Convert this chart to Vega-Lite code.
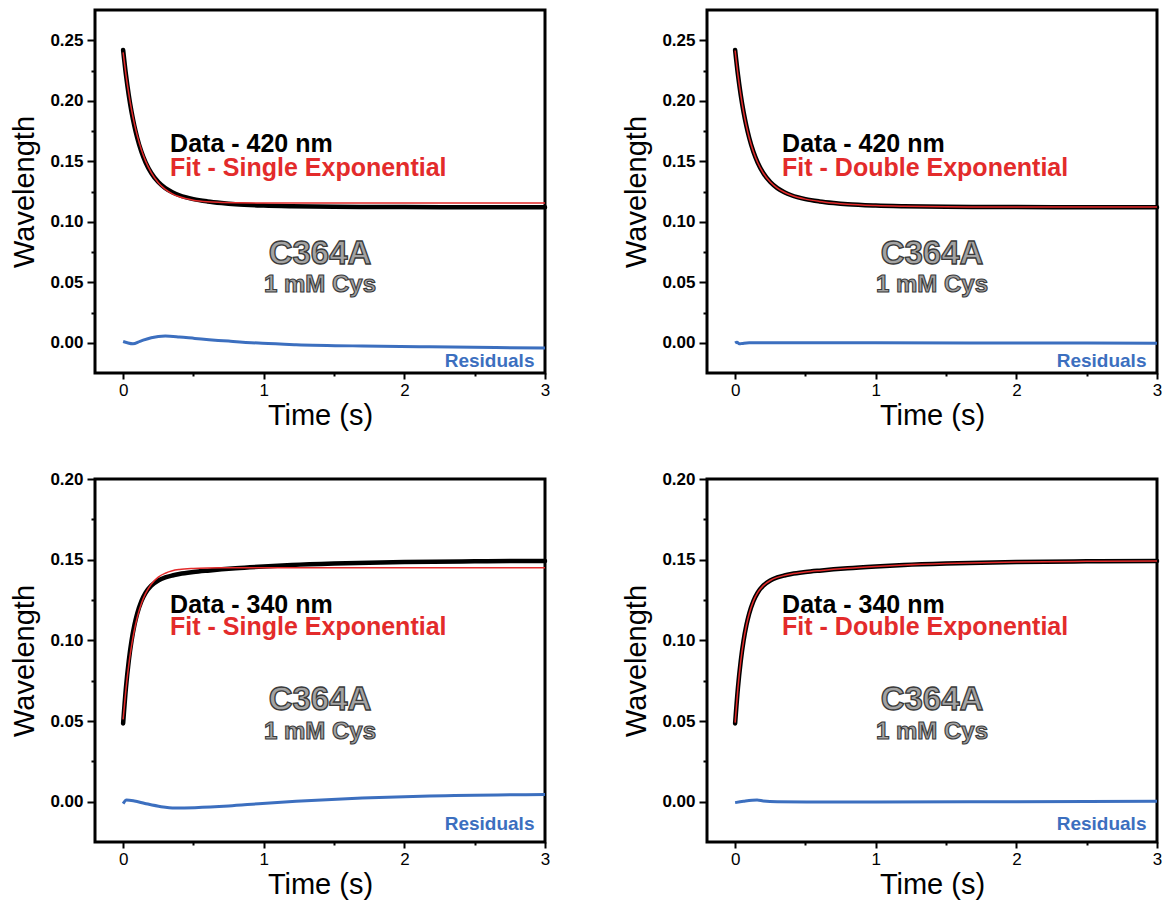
{
  "$schema": "https://vega.github.io/schema/vega-lite/v6.json",
  "background": "white",
  "padding": {"left": 9, "top": 8, "right": 2, "bottom": 5},
  "bounds": "flush",
  "columns": 2,
  "spacing": {"row": 106, "column": 162},
  "datasets": {
    "curves": [
      {"p": "A", "t": 0, "data": 0.242, "fit": 0.24},
      {"p": "A", "t": 0.02, "data": 0.2216, "fit": 0.2216},
      {"p": "A", "t": 0.04, "data": 0.2047, "fit": 0.2059},
      {"p": "A", "t": 0.06, "data": 0.1907, "fit": 0.1925},
      {"p": "A", "t": 0.08, "data": 0.1791, "fit": 0.1811},
      {"p": "A", "t": 0.1, "data": 0.1694, "fit": 0.1714},
      {"p": "A", "t": 0.13, "data": 0.1578, "fit": 0.1595},
      {"p": "A", "t": 0.16, "data": 0.149, "fit": 0.1501},
      {"p": "A", "t": 0.2, "data": 0.1403, "fit": 0.1406},
      {"p": "A", "t": 0.25, "data": 0.1328, "fit": 0.1323},
      {"p": "A", "t": 0.3, "data": 0.1278, "fit": 0.1268},
      {"p": "A", "t": 0.35, "data": 0.1244, "fit": 0.1231},
      {"p": "A", "t": 0.4, "data": 0.1219, "fit": 0.1206},
      {"p": "A", "t": 0.5, "data": 0.1187, "fit": 0.1178},
      {"p": "A", "t": 0.6, "data": 0.1168, "fit": 0.1165},
      {"p": "A", "t": 0.7, "data": 0.1155, "fit": 0.116},
      {"p": "A", "t": 0.8, "data": 0.1145, "fit": 0.1157},
      {"p": "A", "t": 1.0, "data": 0.1134, "fit": 0.1155},
      {"p": "A", "t": 1.2, "data": 0.1128, "fit": 0.1155},
      {"p": "A", "t": 1.5, "data": 0.1123, "fit": 0.1155},
      {"p": "A", "t": 2.0, "data": 0.1121, "fit": 0.1155},
      {"p": "A", "t": 2.5, "data": 0.112, "fit": 0.1155},
      {"p": "A", "t": 3.0, "data": 0.112, "fit": 0.1155},

      {"p": "B", "t": 0, "data": 0.242, "fit": 0.2415},
      {"p": "B", "t": 0.02, "data": 0.2216, "fit": 0.2214},
      {"p": "B", "t": 0.04, "data": 0.2047, "fit": 0.2049},
      {"p": "B", "t": 0.06, "data": 0.1907, "fit": 0.1909},
      {"p": "B", "t": 0.08, "data": 0.1791, "fit": 0.1792},
      {"p": "B", "t": 0.1, "data": 0.1694, "fit": 0.1694},
      {"p": "B", "t": 0.13, "data": 0.1578, "fit": 0.1578},
      {"p": "B", "t": 0.16, "data": 0.149, "fit": 0.149},
      {"p": "B", "t": 0.2, "data": 0.1403, "fit": 0.1403},
      {"p": "B", "t": 0.25, "data": 0.1328, "fit": 0.1328},
      {"p": "B", "t": 0.3, "data": 0.1278, "fit": 0.1278},
      {"p": "B", "t": 0.35, "data": 0.1244, "fit": 0.1244},
      {"p": "B", "t": 0.4, "data": 0.1219, "fit": 0.1219},
      {"p": "B", "t": 0.5, "data": 0.1187, "fit": 0.1187},
      {"p": "B", "t": 0.6, "data": 0.1168, "fit": 0.1168},
      {"p": "B", "t": 0.7, "data": 0.1155, "fit": 0.1155},
      {"p": "B", "t": 0.8, "data": 0.1145, "fit": 0.1145},
      {"p": "B", "t": 1.0, "data": 0.1134, "fit": 0.1134},
      {"p": "B", "t": 1.2, "data": 0.1128, "fit": 0.1128},
      {"p": "B", "t": 1.5, "data": 0.1123, "fit": 0.1123},
      {"p": "B", "t": 2.0, "data": 0.1121, "fit": 0.1121},
      {"p": "B", "t": 2.5, "data": 0.112, "fit": 0.1121},
      {"p": "B", "t": 3.0, "data": 0.112, "fit": 0.1121},

      {"p": "C", "t": 0, "data": 0.0485, "fit": 0.051},
      {"p": "C", "t": 0.02, "data": 0.0706, "fit": 0.0697},
      {"p": "C", "t": 0.04, "data": 0.0872, "fit": 0.0847},
      {"p": "C", "t": 0.06, "data": 0.0998, "fit": 0.0967},
      {"p": "C", "t": 0.08, "data": 0.1093, "fit": 0.1064},
      {"p": "C", "t": 0.1, "data": 0.1165, "fit": 0.1141},
      {"p": "C", "t": 0.13, "data": 0.1243, "fit": 0.1228},
      {"p": "C", "t": 0.16, "data": 0.1295, "fit": 0.1291},
      {"p": "C", "t": 0.2, "data": 0.1339, "fit": 0.1348},
      {"p": "C", "t": 0.25, "data": 0.1371, "fit": 0.1392},
      {"p": "C", "t": 0.3, "data": 0.139, "fit": 0.1416},
      {"p": "C", "t": 0.35, "data": 0.1402, "fit": 0.1431},
      {"p": "C", "t": 0.4, "data": 0.1411, "fit": 0.1439},
      {"p": "C", "t": 0.5, "data": 0.1423, "fit": 0.1446},
      {"p": "C", "t": 0.6, "data": 0.1432, "fit": 0.1449},
      {"p": "C", "t": 0.7, "data": 0.144, "fit": 0.145},
      {"p": "C", "t": 0.8, "data": 0.1447, "fit": 0.145},
      {"p": "C", "t": 1.0, "data": 0.1458, "fit": 0.145},
      {"p": "C", "t": 1.2, "data": 0.1467, "fit": 0.145},
      {"p": "C", "t": 1.5, "data": 0.1476, "fit": 0.145},
      {"p": "C", "t": 2.0, "data": 0.1485, "fit": 0.145},
      {"p": "C", "t": 2.5, "data": 0.149, "fit": 0.145},
      {"p": "C", "t": 3.0, "data": 0.1492, "fit": 0.145},

      {"p": "D", "t": 0, "data": 0.0485, "fit": 0.049},
      {"p": "D", "t": 0.02, "data": 0.0706, "fit": 0.0705},
      {"p": "D", "t": 0.04, "data": 0.0872, "fit": 0.0871},
      {"p": "D", "t": 0.06, "data": 0.0998, "fit": 0.0997},
      {"p": "D", "t": 0.08, "data": 0.1093, "fit": 0.1092},
      {"p": "D", "t": 0.1, "data": 0.1165, "fit": 0.1165},
      {"p": "D", "t": 0.13, "data": 0.1243, "fit": 0.1243},
      {"p": "D", "t": 0.16, "data": 0.1295, "fit": 0.1295},
      {"p": "D", "t": 0.2, "data": 0.1339, "fit": 0.1339},
      {"p": "D", "t": 0.25, "data": 0.1371, "fit": 0.1371},
      {"p": "D", "t": 0.3, "data": 0.139, "fit": 0.139},
      {"p": "D", "t": 0.35, "data": 0.1402, "fit": 0.1402},
      {"p": "D", "t": 0.4, "data": 0.1411, "fit": 0.1411},
      {"p": "D", "t": 0.5, "data": 0.1423, "fit": 0.1423},
      {"p": "D", "t": 0.6, "data": 0.1432, "fit": 0.1432},
      {"p": "D", "t": 0.7, "data": 0.144, "fit": 0.144},
      {"p": "D", "t": 0.8, "data": 0.1447, "fit": 0.1447},
      {"p": "D", "t": 1.0, "data": 0.1458, "fit": 0.1458},
      {"p": "D", "t": 1.2, "data": 0.1467, "fit": 0.1467},
      {"p": "D", "t": 1.5, "data": 0.1476, "fit": 0.1476},
      {"p": "D", "t": 2.0, "data": 0.1485, "fit": 0.1485},
      {"p": "D", "t": 2.5, "data": 0.149, "fit": 0.149},
      {"p": "D", "t": 3.0, "data": 0.1492, "fit": 0.1492}
    ],
    "residuals": [
      {"p": "A", "t": 0, "res": 0.001},
      {"p": "A", "t": 0.03, "res": 0.0},
      {"p": "A", "t": 0.07, "res": -0.0008},
      {"p": "A", "t": 0.12, "res": 0.0012},
      {"p": "A", "t": 0.2, "res": 0.0042},
      {"p": "A", "t": 0.3, "res": 0.0055},
      {"p": "A", "t": 0.4, "res": 0.0048},
      {"p": "A", "t": 0.51, "res": 0.0036},
      {"p": "A", "t": 0.75, "res": 0.0014},
      {"p": "A", "t": 0.99, "res": -0.0005},
      {"p": "A", "t": 1.23, "res": -0.0016},
      {"p": "A", "t": 1.7, "res": -0.0027},
      {"p": "A", "t": 2.18, "res": -0.0033},
      {"p": "A", "t": 3.0, "res": -0.0044},

      {"p": "B", "t": 0, "res": -0.0002},
      {"p": "B", "t": 0.013, "res": 0.0005},
      {"p": "B", "t": 0.03, "res": -0.0009},
      {"p": "B", "t": 0.05, "res": -0.0006},
      {"p": "B", "t": 0.1, "res": 0.0},
      {"p": "B", "t": 0.5, "res": 0.0},
      {"p": "B", "t": 1.0, "res": 0.0},
      {"p": "B", "t": 2.0, "res": -0.0002},
      {"p": "B", "t": 3.0, "res": -0.0004},

      {"p": "C", "t": 0, "res": -0.0012},
      {"p": "C", "t": 0.024, "res": 0.001},
      {"p": "C", "t": 0.08, "res": 0.0004},
      {"p": "C", "t": 0.155, "res": -0.0011},
      {"p": "C", "t": 0.27, "res": -0.0031},
      {"p": "C", "t": 0.37, "res": -0.0039},
      {"p": "C", "t": 0.51, "res": -0.0037},
      {"p": "C", "t": 0.75, "res": -0.0027},
      {"p": "C", "t": 0.99, "res": -0.0011},
      {"p": "C", "t": 1.23, "res": 0.0002},
      {"p": "C", "t": 1.7, "res": 0.0022},
      {"p": "C", "t": 2.18, "res": 0.0035},
      {"p": "C", "t": 3.0, "res": 0.0045},

      {"p": "D", "t": 0, "res": -0.0006},
      {"p": "D", "t": 0.06, "res": 0.0002},
      {"p": "D", "t": 0.156, "res": 0.001},
      {"p": "D", "t": 0.2, "res": 0.0004},
      {"p": "D", "t": 0.3, "res": -0.0001},
      {"p": "D", "t": 0.51, "res": -0.0002},
      {"p": "D", "t": 1.0, "res": -0.0002},
      {"p": "D", "t": 2.0, "res": 0.0},
      {"p": "D", "t": 3.0, "res": 0.0002}
    ],
    "notes": [
      {"p": "A", "role": "sample", "t": 0.334, "v": 0.1574, "text": "Data - 420 nm"},
      {"p": "A", "role": "fit", "t": 0.334, "v": 0.1382, "text": "Fit - Single Exponential"},
      {"p": "A", "role": "protein", "t": 1.4, "v": 0.0654, "text": "C364A"},
      {"p": "A", "role": "condition", "t": 1.4, "v": 0.042, "text": "1 mM Cys"},
      {"p": "A", "role": "resid", "t": 2.925, "v": -0.0198, "text": "Residuals"},
      {"p": "B", "role": "sample", "t": 0.334, "v": 0.1574, "text": "Data - 420 nm"},
      {"p": "B", "role": "fit", "t": 0.334, "v": 0.1382, "text": "Fit - Double Exponential"},
      {"p": "B", "role": "protein", "t": 1.4, "v": 0.0654, "text": "C364A"},
      {"p": "B", "role": "condition", "t": 1.4, "v": 0.042, "text": "1 mM Cys"},
      {"p": "B", "role": "resid", "t": 2.925, "v": -0.0198, "text": "Residuals"},
      {"p": "C", "role": "sample", "t": 0.334, "v": 0.117, "text": "Data - 340 nm"},
      {"p": "C", "role": "fit", "t": 0.334, "v": 0.1036, "text": "Fit - Single Exponential"},
      {"p": "C", "role": "protein", "t": 1.4, "v": 0.0571, "text": "C364A"},
      {"p": "C", "role": "condition", "t": 1.4, "v": 0.039, "text": "1 mM Cys"},
      {"p": "C", "role": "resid", "t": 2.925, "v": -0.0176, "text": "Residuals"},
      {"p": "D", "role": "sample", "t": 0.334, "v": 0.117, "text": "Data - 340 nm"},
      {"p": "D", "role": "fit", "t": 0.334, "v": 0.1036, "text": "Fit - Double Exponential"},
      {"p": "D", "role": "protein", "t": 1.4, "v": 0.0571, "text": "C364A"},
      {"p": "D", "role": "condition", "t": 1.4, "v": 0.039, "text": "1 mM Cys"},
      {"p": "D", "role": "resid", "t": 2.925, "v": -0.0176, "text": "Residuals"}
    ]
  },
  "concat": [
    {
      "width": 450, "height": 363,
      "encoding": {
        "x": {"field": "t", "type": "quantitative", "title": "Time (s)",
          "scale": {"domain": [-0.2, 3], "nice": false, "zero": false},
          "axis": {"values": [0, 0.5, 1, 1.5, 2, 2.5, 3], "labelExpr": "abs(datum.value - round(datum.value)) < 0.001 ? format(datum.value, 'd') : ''",
            "tickSize": {"condition": {"test": "abs(datum.value - round(datum.value)) < 0.001", "value": 6}, "value": 3},
            "labelFontSize": 17, "labelFontWeight": "normal", "labelPadding": 3, "titlePadding": 3, "labelFlush": false}},
        "y": {"field": "v", "type": "quantitative", "title": "Wavelength",
          "scale": {"domain": [-0.025, 0.275], "nice": false, "zero": false},
          "axis": {"values": [0, 0.025, 0.05, 0.075, 0.1, 0.125, 0.15, 0.175, 0.2, 0.225, 0.25],
            "labelExpr": "abs(datum.value * 20 - round(datum.value * 20)) < 0.001 ? format(datum.value, '.2f') : ''",
            "tickSize": {"condition": {"test": "abs(datum.value * 20 - round(datum.value * 20)) < 0.001", "value": 8}, "value": 4},
            "labelPadding": 4, "titlePadding": 10}}
      },
      "layer": [
        {"data": {"name": "curves"}, "transform": [{"filter": "datum.p === 'A'"}, {"fold": ["data"], "as": ["series", "v"]}],
          "mark": {"type": "line", "color": "black", "strokeWidth": 4.5, "interpolate": "monotone", "strokeCap": "round"}},
        {"data": {"name": "curves"}, "transform": [{"filter": "datum.p === 'A'"}, {"fold": ["fit"], "as": ["series", "v"]}],
          "mark": {"type": "line", "color": "#e32b2b", "strokeWidth": 1.5, "interpolate": "monotone"}},
        {"data": {"name": "residuals"}, "transform": [{"filter": "datum.p === 'A'"}, {"fold": ["res"], "as": ["series", "v"]}],
          "mark": {"type": "line", "color": "#3c6fbf", "strokeWidth": 3, "interpolate": "monotone"}},
        {"data": {"name": "notes"}, "transform": [{"filter": "datum.p === 'A' && datum.role === 'sample'"}],
          "mark": {"type": "text", "align": "left", "baseline": "alphabetic", "fontSize": 25, "fontWeight": "bold", "color": "black"},
          "encoding": {"text": {"field": "text"}}},
        {"data": {"name": "notes"}, "transform": [{"filter": "datum.p === 'A' && datum.role === 'fit'"}],
          "mark": {"type": "text", "align": "left", "baseline": "alphabetic", "fontSize": 25, "fontWeight": "bold", "color": "#e32b2b"},
          "encoding": {"text": {"field": "text"}}},
        {"data": {"name": "notes"}, "transform": [{"filter": "datum.p === 'A' && datum.role === 'protein'"}],
          "mark": {"type": "text", "align": "center", "baseline": "alphabetic", "fontSize": 33, "fontWeight": "bold", "color": "#a3a3a3", "stroke": "#3a3a3a", "strokeWidth": 1.3},
          "encoding": {"text": {"field": "text"}}},
        {"data": {"name": "notes"}, "transform": [{"filter": "datum.p === 'A' && datum.role === 'condition'"}],
          "mark": {"type": "text", "align": "center", "baseline": "alphabetic", "fontSize": 24, "fontWeight": "bold", "color": "#a3a3a3", "stroke": "#3a3a3a", "strokeWidth": 1.1},
          "encoding": {"text": {"field": "text"}}},
        {"data": {"name": "notes"}, "transform": [{"filter": "datum.p === 'A' && datum.role === 'resid'"}],
          "mark": {"type": "text", "align": "right", "baseline": "alphabetic", "fontSize": 19, "fontWeight": "bold", "color": "#3c6fbf"},
          "encoding": {"text": {"field": "text"}}}
      ]
    },
    {
      "width": 450, "height": 363,
      "encoding": {
        "x": {"field": "t", "type": "quantitative", "title": "Time (s)",
          "scale": {"domain": [-0.2, 3], "nice": false, "zero": false},
          "axis": {"values": [0, 0.5, 1, 1.5, 2, 2.5, 3], "labelExpr": "abs(datum.value - round(datum.value)) < 0.001 ? format(datum.value, 'd') : ''",
            "tickSize": {"condition": {"test": "abs(datum.value - round(datum.value)) < 0.001", "value": 6}, "value": 3},
            "labelFontSize": 17, "labelFontWeight": "normal", "labelPadding": 3, "titlePadding": 3, "labelFlush": false}},
        "y": {"field": "v", "type": "quantitative", "title": "Wavelength",
          "scale": {"domain": [-0.025, 0.275], "nice": false, "zero": false},
          "axis": {"values": [0, 0.025, 0.05, 0.075, 0.1, 0.125, 0.15, 0.175, 0.2, 0.225, 0.25],
            "labelExpr": "abs(datum.value * 20 - round(datum.value * 20)) < 0.001 ? format(datum.value, '.2f') : ''",
            "tickSize": {"condition": {"test": "abs(datum.value * 20 - round(datum.value * 20)) < 0.001", "value": 8}, "value": 4},
            "labelPadding": 4, "titlePadding": 10}}
      },
      "layer": [
        {"data": {"name": "curves"}, "transform": [{"filter": "datum.p === 'B'"}, {"fold": ["data"], "as": ["series", "v"]}],
          "mark": {"type": "line", "color": "black", "strokeWidth": 4.5, "interpolate": "monotone", "strokeCap": "round"}},
        {"data": {"name": "curves"}, "transform": [{"filter": "datum.p === 'B'"}, {"fold": ["fit"], "as": ["series", "v"]}],
          "mark": {"type": "line", "color": "#e32b2b", "strokeWidth": 1.5, "interpolate": "monotone"}},
        {"data": {"name": "residuals"}, "transform": [{"filter": "datum.p === 'B'"}, {"fold": ["res"], "as": ["series", "v"]}],
          "mark": {"type": "line", "color": "#3c6fbf", "strokeWidth": 3, "interpolate": "monotone"}},
        {"data": {"name": "notes"}, "transform": [{"filter": "datum.p === 'B' && datum.role === 'sample'"}],
          "mark": {"type": "text", "align": "left", "baseline": "alphabetic", "fontSize": 25, "fontWeight": "bold", "color": "black"},
          "encoding": {"text": {"field": "text"}}},
        {"data": {"name": "notes"}, "transform": [{"filter": "datum.p === 'B' && datum.role === 'fit'"}],
          "mark": {"type": "text", "align": "left", "baseline": "alphabetic", "fontSize": 25, "fontWeight": "bold", "color": "#e32b2b"},
          "encoding": {"text": {"field": "text"}}},
        {"data": {"name": "notes"}, "transform": [{"filter": "datum.p === 'B' && datum.role === 'protein'"}],
          "mark": {"type": "text", "align": "center", "baseline": "alphabetic", "fontSize": 33, "fontWeight": "bold", "color": "#a3a3a3", "stroke": "#3a3a3a", "strokeWidth": 1.3},
          "encoding": {"text": {"field": "text"}}},
        {"data": {"name": "notes"}, "transform": [{"filter": "datum.p === 'B' && datum.role === 'condition'"}],
          "mark": {"type": "text", "align": "center", "baseline": "alphabetic", "fontSize": 24, "fontWeight": "bold", "color": "#a3a3a3", "stroke": "#3a3a3a", "strokeWidth": 1.1},
          "encoding": {"text": {"field": "text"}}},
        {"data": {"name": "notes"}, "transform": [{"filter": "datum.p === 'B' && datum.role === 'resid'"}],
          "mark": {"type": "text", "align": "right", "baseline": "alphabetic", "fontSize": 19, "fontWeight": "bold", "color": "#3c6fbf"},
          "encoding": {"text": {"field": "text"}}}
      ]
    },
    {
      "width": 450, "height": 363,
      "encoding": {
        "x": {"field": "t", "type": "quantitative", "title": "Time (s)",
          "scale": {"domain": [-0.2, 3], "nice": false, "zero": false},
          "axis": {"values": [0, 0.5, 1, 1.5, 2, 2.5, 3], "labelExpr": "abs(datum.value - round(datum.value)) < 0.001 ? format(datum.value, 'd') : ''",
            "tickSize": {"condition": {"test": "abs(datum.value - round(datum.value)) < 0.001", "value": 6}, "value": 3},
            "labelFontSize": 17, "labelFontWeight": "normal", "labelPadding": 3, "titlePadding": 3, "labelFlush": false}},
        "y": {"field": "v", "type": "quantitative", "title": "Wavelength",
          "scale": {"domain": [-0.025, 0.2], "nice": false, "zero": false},
          "axis": {"values": [0, 0.025, 0.05, 0.075, 0.1, 0.125, 0.15, 0.175, 0.2],
            "labelExpr": "abs(datum.value * 20 - round(datum.value * 20)) < 0.001 ? format(datum.value, '.2f') : ''",
            "tickSize": {"condition": {"test": "abs(datum.value * 20 - round(datum.value * 20)) < 0.001", "value": 8}, "value": 4},
            "labelPadding": 4, "titlePadding": 10}}
      },
      "layer": [
        {"data": {"name": "curves"}, "transform": [{"filter": "datum.p === 'C'"}, {"fold": ["data"], "as": ["series", "v"]}],
          "mark": {"type": "line", "color": "black", "strokeWidth": 4.5, "interpolate": "monotone", "strokeCap": "round"}},
        {"data": {"name": "curves"}, "transform": [{"filter": "datum.p === 'C'"}, {"fold": ["fit"], "as": ["series", "v"]}],
          "mark": {"type": "line", "color": "#e32b2b", "strokeWidth": 1.5, "interpolate": "monotone"}},
        {"data": {"name": "residuals"}, "transform": [{"filter": "datum.p === 'C'"}, {"fold": ["res"], "as": ["series", "v"]}],
          "mark": {"type": "line", "color": "#3c6fbf", "strokeWidth": 3, "interpolate": "monotone"}},
        {"data": {"name": "notes"}, "transform": [{"filter": "datum.p === 'C' && datum.role === 'sample'"}],
          "mark": {"type": "text", "align": "left", "baseline": "alphabetic", "fontSize": 25, "fontWeight": "bold", "color": "black"},
          "encoding": {"text": {"field": "text"}}},
        {"data": {"name": "notes"}, "transform": [{"filter": "datum.p === 'C' && datum.role === 'fit'"}],
          "mark": {"type": "text", "align": "left", "baseline": "alphabetic", "fontSize": 25, "fontWeight": "bold", "color": "#e32b2b"},
          "encoding": {"text": {"field": "text"}}},
        {"data": {"name": "notes"}, "transform": [{"filter": "datum.p === 'C' && datum.role === 'protein'"}],
          "mark": {"type": "text", "align": "center", "baseline": "alphabetic", "fontSize": 33, "fontWeight": "bold", "color": "#a3a3a3", "stroke": "#3a3a3a", "strokeWidth": 1.3},
          "encoding": {"text": {"field": "text"}}},
        {"data": {"name": "notes"}, "transform": [{"filter": "datum.p === 'C' && datum.role === 'condition'"}],
          "mark": {"type": "text", "align": "center", "baseline": "alphabetic", "fontSize": 24, "fontWeight": "bold", "color": "#a3a3a3", "stroke": "#3a3a3a", "strokeWidth": 1.1},
          "encoding": {"text": {"field": "text"}}},
        {"data": {"name": "notes"}, "transform": [{"filter": "datum.p === 'C' && datum.role === 'resid'"}],
          "mark": {"type": "text", "align": "right", "baseline": "alphabetic", "fontSize": 19, "fontWeight": "bold", "color": "#3c6fbf"},
          "encoding": {"text": {"field": "text"}}}
      ]
    },
    {
      "width": 450, "height": 363,
      "encoding": {
        "x": {"field": "t", "type": "quantitative", "title": "Time (s)",
          "scale": {"domain": [-0.2, 3], "nice": false, "zero": false},
          "axis": {"values": [0, 0.5, 1, 1.5, 2, 2.5, 3], "labelExpr": "abs(datum.value - round(datum.value)) < 0.001 ? format(datum.value, 'd') : ''",
            "tickSize": {"condition": {"test": "abs(datum.value - round(datum.value)) < 0.001", "value": 6}, "value": 3},
            "labelFontSize": 17, "labelFontWeight": "normal", "labelPadding": 3, "titlePadding": 3, "labelFlush": false}},
        "y": {"field": "v", "type": "quantitative", "title": "Wavelength",
          "scale": {"domain": [-0.025, 0.2], "nice": false, "zero": false},
          "axis": {"values": [0, 0.025, 0.05, 0.075, 0.1, 0.125, 0.15, 0.175, 0.2],
            "labelExpr": "abs(datum.value * 20 - round(datum.value * 20)) < 0.001 ? format(datum.value, '.2f') : ''",
            "tickSize": {"condition": {"test": "abs(datum.value * 20 - round(datum.value * 20)) < 0.001", "value": 8}, "value": 4},
            "labelPadding": 4, "titlePadding": 10}}
      },
      "layer": [
        {"data": {"name": "curves"}, "transform": [{"filter": "datum.p === 'D'"}, {"fold": ["data"], "as": ["series", "v"]}],
          "mark": {"type": "line", "color": "black", "strokeWidth": 4.5, "interpolate": "monotone", "strokeCap": "round"}},
        {"data": {"name": "curves"}, "transform": [{"filter": "datum.p === 'D'"}, {"fold": ["fit"], "as": ["series", "v"]}],
          "mark": {"type": "line", "color": "#e32b2b", "strokeWidth": 1.5, "interpolate": "monotone"}},
        {"data": {"name": "residuals"}, "transform": [{"filter": "datum.p === 'D'"}, {"fold": ["res"], "as": ["series", "v"]}],
          "mark": {"type": "line", "color": "#3c6fbf", "strokeWidth": 3, "interpolate": "monotone"}},
        {"data": {"name": "notes"}, "transform": [{"filter": "datum.p === 'D' && datum.role === 'sample'"}],
          "mark": {"type": "text", "align": "left", "baseline": "alphabetic", "fontSize": 25, "fontWeight": "bold", "color": "black"},
          "encoding": {"text": {"field": "text"}}},
        {"data": {"name": "notes"}, "transform": [{"filter": "datum.p === 'D' && datum.role === 'fit'"}],
          "mark": {"type": "text", "align": "left", "baseline": "alphabetic", "fontSize": 25, "fontWeight": "bold", "color": "#e32b2b"},
          "encoding": {"text": {"field": "text"}}},
        {"data": {"name": "notes"}, "transform": [{"filter": "datum.p === 'D' && datum.role === 'protein'"}],
          "mark": {"type": "text", "align": "center", "baseline": "alphabetic", "fontSize": 33, "fontWeight": "bold", "color": "#a3a3a3", "stroke": "#3a3a3a", "strokeWidth": 1.3},
          "encoding": {"text": {"field": "text"}}},
        {"data": {"name": "notes"}, "transform": [{"filter": "datum.p === 'D' && datum.role === 'condition'"}],
          "mark": {"type": "text", "align": "center", "baseline": "alphabetic", "fontSize": 24, "fontWeight": "bold", "color": "#a3a3a3", "stroke": "#3a3a3a", "strokeWidth": 1.1},
          "encoding": {"text": {"field": "text"}}},
        {"data": {"name": "notes"}, "transform": [{"filter": "datum.p === 'D' && datum.role === 'resid'"}],
          "mark": {"type": "text", "align": "right", "baseline": "alphabetic", "fontSize": 19, "fontWeight": "bold", "color": "#3c6fbf"},
          "encoding": {"text": {"field": "text"}}}
      ]
    }
  ],
  "config": {
    "font": "Liberation Sans",
    "view": {"stroke": "black", "strokeWidth": 3},
    "axis": {
      "domain": false, "grid": false,
      "tickColor": "black", "tickWidth": 2,
      "labelColor": "black", "labelFont": "Liberation Sans", "labelFontSize": 17, "labelFontWeight": "bold", "labelOverlap": false,
      "titleColor": "black", "titleFont": "Liberation Sans", "titleFontSize": 29, "titleFontWeight": "normal"
    }
  }
}
